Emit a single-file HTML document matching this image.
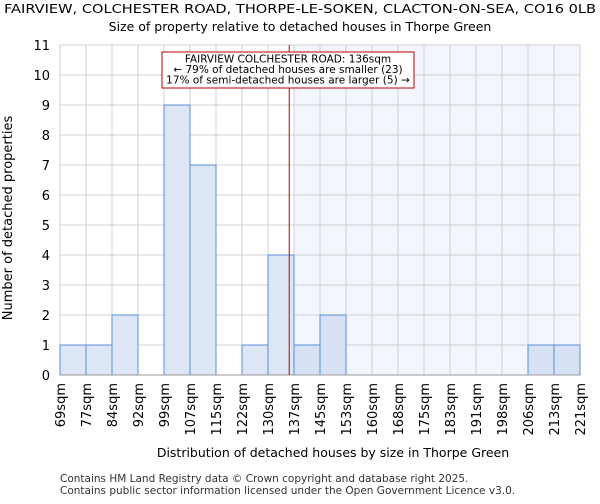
<!DOCTYPE html>
<html><head><meta charset="utf-8"><style>
body{margin:0;background:#fff;font-family:"DejaVu Sans","Liberation Sans",sans-serif}
</style></head><body>
<svg id="c" width="600" height="500" xmlns="http://www.w3.org/2000/svg" font-family="DejaVu Sans, Liberation Sans, sans-serif">
<text x="300" y="13" text-anchor="middle" font-size="12" textLength="592" lengthAdjust="spacingAndGlyphs">FAIRVIEW, COLCHESTER ROAD, THORPE-LE-SOKEN, CLACTON-ON-SEA, CO16 0LB</text>
<text x="300" y="31" text-anchor="middle" font-size="12.5">Size of property relative to detached houses in Thorpe Green</text>
<g id="plot"></g>
<text x="333" y="457" text-anchor="middle" font-size="12.5">Distribution of detached houses by size in Thorpe Green</text>
<text transform="translate(12,218) rotate(-90)" text-anchor="middle" font-size="13">Number of detached properties</text>
<text x="60" y="482" font-size="10.5" fill="#333">Contains HM Land Registry data © Crown copyright and database right 2025.</text>
<text x="60" y="494" font-size="10.5" fill="#333">Contains public sector information licensed under the Open Government Licence v3.0.</text>
</svg>
<script>
const binLabels=["69sqm","77sqm","84sqm","92sqm","99sqm","107sqm","115sqm","122sqm","130sqm","137sqm","145sqm","153sqm","160sqm","168sqm","175sqm","183sqm","191sqm","198sqm","206sqm","213sqm","221sqm"];
const binStarts=[69,76.6,84.2,91.8,99.4,107,114.6,122.2,129.8,137.4,145,152.6,160.2,167.8,175.4,183,190.6,198.2,205.8,213.4,221];
const counts=[1,1,2,0,9,7,0,1,4,1,2,0,0,0,0,0,0,0,1,1];
const yTicks=[0,1,2,3,4,5,6,7,8,9,10,11];
const propertySize=136;
const L=60,R=580,T=45,B=375,yMax=11;
const n=counts.length;
const bw=(R-L)/n;
const xs=v=>{let i=0;while(i<n-1&&binStarts[i+1]<=v)i++;return L+(i+(v-binStarts[i])/(binStarts[i+1]-binStarts[i]))*bw;};
const ys=v=>B-(v/yMax)*(B-T);
const g=document.getElementById('plot');
const NS="http://www.w3.org/2000/svg";
function mk(t,a){const e=document.createElementNS(NS,t);for(const k in a)e.setAttribute(k,a[k]);g.appendChild(e);return e;}
const px=xs(propertySize);
let firstLarger=binStarts.findIndex(b=>b>propertySize);
let sh=mk('rect',{x:L+firstLarger*bw,y:T,width:R-(L+firstLarger*bw),height:B-T,fill:'#f3f6fd'});


yTicks.forEach(t=>{const y=ys(t);
 let l=mk('line',{x1:L,x2:R,y1:y,y2:y,stroke:'#d0d0d0','stroke-width':1});
 
 
 let tx=mk('text',{x:L-10,y:y+5,'text-anchor':'end','font-size':13});
 tx.textContent=t;
 
 
});
for(let i=0;i<=n;i++){const x=L+i*bw;
 let l=mk('line',{x1:x,x2:x,y1:T,y2:B,stroke:'#d0d0d0','stroke-width':1});
 
 
 let tx=mk('text',{transform:`translate(${x+5},${B+8}) rotate(-90)`,'text-anchor':'end','font-size':13});
 tx.textContent=binLabels[i];
 
 
}
counts.forEach((c,i)=>{if(!c)return;
 let r=mk('rect',{x:L+i*bw,y:ys(c),width:bw,height:B-ys(c),fill:i>=firstLarger?'#d6e2f4':'#dce6f4',stroke:'#5b8fd6','stroke-width':1});
 
 
});
let ax=mk('line',{x1:L,x2:R,y1:B,y2:B,stroke:'#999','stroke-width':1});


let ml=mk('line',{x1:px,x2:px,y1:T,y2:B,stroke:'#c00000','stroke-width':1});


let bx=mk('rect',{x:162,y:52,width:252,height:36,fill:'#fff',stroke:'#c00000','stroke-width':1});


["FAIRVIEW COLCHESTER ROAD: 136sqm","← 79% of detached houses are smaller (23)","17% of semi-detached houses are larger (5) →"].forEach((s,i)=>{
 let t=mk('text',{x:288,y:62.5+i*10.5,'text-anchor':'middle','font-size':10.5});
 t.textContent=s;
 
 
});
</script>
</body></html>
